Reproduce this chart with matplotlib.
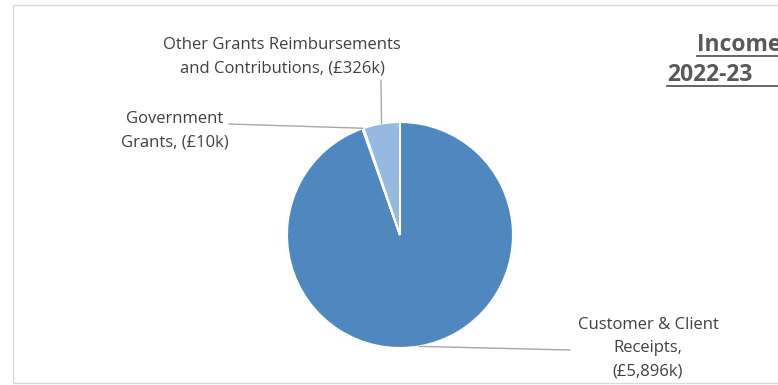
import numpy as np
import matplotlib.pyplot as plt
from matplotlib.lines import Line2D

# Income by source, £k
sources = ["Customer & Client\nReceipts,\n(£5,896k)",
           "Government\nGrants, (£10k)",
           "Other Grants Reimbursements\nand Contributions, (£326k)"]
amounts = [5896, 10, 326]
colours = ["#4F88BE", "#3A6EA5", "#96B9E1"]

W, H = 778, 385
fig = plt.figure(figsize=(W / 100, H / 100), dpi=100)
plt.rcParams['font.family'] = ['Open Sans', 'DejaVu Sans']


def px(x, y):
    # pixel position (from top-left) to figure fraction
    return x / W, 1 - y / H


# chart border
fig.patches.append(plt.Rectangle(px(13, 383), (W + 10 - 13) / W, (383 - 5) / H,
                                 transform=fig.transFigure, fill=False,
                                 edgecolor="#D9D9D9", linewidth=1))

cx, cy, r = 400, 235, 113
ax = fig.add_axes([(cx - r) / W, 1 - (cy + r) / H, 2 * r / W, 2 * r / H])
wedges, _ = ax.pie(amounts, colors=colours, startangle=90, counterclock=False,
                   radius=1, wedgeprops=dict(edgecolor="white", linewidth=1.5))
ax.set_xlim(-1, 1)
ax.set_ylim(-1, 1)
ax.set_aspect("equal")
ax.axis("off")

# label text centres and leader-line ends (pixels)
text_pos = [(648, 348), (175, 131), (282, 57)]
line_end = [(570, 350), (229, 124), (381, 80)]
for w, label, tp, le in zip(wedges, sources, text_pos, line_end):
    mid = np.deg2rad((w.theta1 + w.theta2) / 2)
    ax.annotate("", xy=(np.cos(mid), np.sin(mid)), xycoords="data",
                xytext=px(*le), textcoords="figure fraction",
                arrowprops=dict(arrowstyle="-", color="#A6A6A6", lw=1,
                                shrinkA=0, shrinkB=0))
    fig.text(*px(*tp), label, ha="center", va="center", fontsize=12,
             color="#404040", linespacing=1.62)

# title, running off the right edge
for txt, x, y in [("Income", 697, 51), ("2022-23", 667, 81)]:
    fig.text(*px(x, y), txt, ha="left", va="baseline", fontsize=16.5,
             fontweight="bold", color="#595959")
    fig.lines.append(Line2D([x / W, 1.0], [1 - (y + 5) / H] * 2,
                            transform=fig.transFigure, color="#595959", lw=1.3))

fig.savefig("out.png", dpi=100)
